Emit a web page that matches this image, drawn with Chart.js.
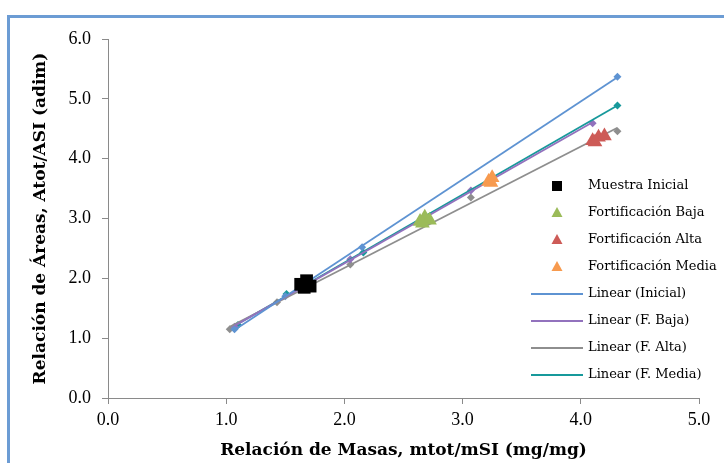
<!DOCTYPE html>
<html lang="es">
<head>
  <meta charset="UTF-8">
  <title>Relación de Áreas vs Relación de Masas</title>
  <script src="https://cdn.jsdelivr.net/npm/chart.js"></script>
  <style>
    body { margin: 0; background: #fff; overflow: hidden; }
    .lienzo { position: absolute; left: 0; top: 0; width: 724px; height: 463px; overflow: hidden; }
    .marco {
      position: absolute; left: 7px; top: 15px; width: 800px; height: 520px;
      border-left: 3px solid #6c9cd4; border-top: 3px solid #6c9cd4;
    }
    .grafico { position: absolute; left: 0; top: 0; width: 724px; height: 463px; }
  </style>
</head>
<body>
  <div class="lienzo">
    <div class="marco"></div>
    <div class="grafico"><canvas id="curvaCalibracion" width="724" height="463"></canvas></div>
  </div>

  <script>
    // Patrones (rombos) de cada curva
    const xInicial = [1.07, 1.50, 2.15, 4.31];
    const yInicial = [1.15, 1.70, 2.52, 5.37];
    const xBaja = [1.07, 2.05, 3.07, 4.10];
    const yBaja = [1.19, 2.32, 3.47, 4.59];
    const xAlta = [1.03, 1.43, 2.05, 3.07, 4.31];
    const yAlta = [1.15, 1.60, 2.23, 3.35, 4.46];
    const xMedia = [1.10, 1.51, 2.16, 4.31];
    const yMedia = [1.22, 1.74, 2.43, 4.89];

    // Muestras
    const xMuestra = [1.63, 1.68, 1.71, 1.66];
    const yMuestra = [1.90, 1.96, 1.87, 1.85];
    const xFBaja = [2.64, 2.68, 2.72, 2.66];
    const yFBaja = [2.95, 3.02, 2.97, 2.92];
    const xFAlta = [4.10, 4.15, 4.20, 4.12];
    const yFAlta = [4.30, 4.36, 4.38, 4.28];
    const xFMedia = [3.22, 3.25, 3.24];
    const yFMedia = [3.62, 3.68, 3.60];

    const azul = '#5e93d2', morado = '#9272bd', gris = '#8e8e8e', verdeAzul = '#17999b';
    const verde = '#9bbb59', rojo = '#cd5b57', naranja = '#f79a4e';

    const puntos = (xs, ys) => xs.map((x, i) => ({ x: x, y: ys[i] }));

    // Recta de mínimos cuadrados (línea de tendencia)
    function recta(xs, ys) {
      const n = xs.length;
      const mx = xs.reduce((a, b) => a + b, 0) / n;
      const my = ys.reduce((a, b) => a + b, 0) / n;
      let sxy = 0, sxx = 0;
      for (let i = 0; i < n; i++) {
        sxy += (xs[i] - mx) * (ys[i] - my);
        sxx += (xs[i] - mx) * (xs[i] - mx);
      }
      const m = sxy / sxx, b = my - m * mx;
      const x0 = Math.min(...xs), x1 = Math.max(...xs);
      return [{ x: x0, y: m * x0 + b }, { x: x1, y: m * x1 + b }];
    }

    const rombos = (datos, color) => ({
      label: '', data: datos, pointStyle: 'rectRot', pointRadius: 4,
      backgroundColor: color, borderColor: color, borderWidth: 0, showLine: false, order: 3
    });
    const linea = (label, datos, color) => ({
      label: label, data: datos, showLine: true, pointRadius: 0,
      borderColor: color, backgroundColor: color, borderWidth: 1.8, order: 2
    });
    const muestra = (label, datos, color, estilo, radio) => ({
      label: label, data: datos, pointStyle: estilo, pointRadius: radio,
      backgroundColor: color, borderColor: color, borderWidth: 0, showLine: false, order: 1
    });

    // Leyenda dentro del área del gráfico
    const leyenda = {
      id: 'leyenda',
      afterDraw(chart) {
        const ctx = chart.ctx;
        const filas = [
          ['Muestra Inicial', '#000', 'square'],
          ['Fortificación Baja', verde, 'triangle'],
          ['Fortificación Alta', rojo, 'triangle'],
          ['Fortificación Media', naranja, 'triangle'],
          ['Linear (Inicial)', azul, 'line'],
          ['Linear (F. Baja)', morado, 'line'],
          ['Linear (F. Alta)', gris, 'line'],
          ['Linear (F. Media)', verdeAzul, 'line']
        ];
        ctx.save();
        ctx.font = '13px "DejaVu Serif"';
        ctx.textBaseline = 'middle';
        filas.forEach((f, i) => {
          const y = 186 + i * 27;
          ctx.fillStyle = f[1];
          ctx.strokeStyle = f[1];
          if (f[2] === 'square') {
            ctx.fillRect(552, y - 5, 10, 10);
          } else if (f[2] === 'triangle') {
            ctx.beginPath();
            ctx.moveTo(557, y - 6);
            ctx.lineTo(562.5, y + 4);
            ctx.lineTo(551.5, y + 4);
            ctx.closePath();
            ctx.fill();
          } else {
            ctx.lineWidth = 1.8;
            ctx.beginPath();
            ctx.moveTo(531, y);
            ctx.lineTo(583, y);
            ctx.stroke();
          }
          ctx.fillStyle = '#000';
          ctx.fillText(f[0], 588, y);
        });
        ctx.restore();
      }
    };

    const ctx = document.getElementById('curvaCalibracion').getContext('2d');
    const grafico = new Chart(ctx, {
      type: 'scatter',
      data: {
        datasets: [
          rombos(puntos(xInicial, yInicial), azul),
          rombos(puntos(xBaja, yBaja), morado),
          rombos(puntos(xAlta, yAlta), gris),
          rombos(puntos(xMedia, yMedia), verdeAzul),
          linea('Linear (Inicial)', recta(xInicial, yInicial), azul),
          linea('Linear (F. Baja)', recta(xBaja, yBaja), morado),
          linea('Linear (F. Alta)', recta(xAlta, yAlta), gris),
          linea('Linear (F. Media)', recta(xMedia, yMedia), verdeAzul),
          muestra('Muestra Inicial', puntos(xMuestra, yMuestra), '#000', 'rect', 9),
          muestra('Fortificación Baja', puntos(xFBaja, yFBaja), verde, 'triangle', 8.5),
          muestra('Fortificación Alta', puntos(xFAlta, yFAlta), rojo, 'triangle', 8.5),
          muestra('Fortificación Media', puntos(xFMedia, yFMedia), naranja, 'triangle', 8.5)
        ]
      },
      options: {
        responsive: false,
        animation: false,
        layout: { padding: { left: 28, right: 25, top: 39, bottom: 0 } },
        plugins: {
          legend: { display: false },
          tooltip: { enabled: false }
        },
        scales: {
          x: {
            type: 'linear', min: 0, max: 5,
            afterFit: (s) => { s.height = 65; },
            border: { color: '#8a8a8a', width: 1 },
            grid: { drawOnChartArea: false, tickLength: 6, color: '#8a8a8a' },
            ticks: {
              stepSize: 1, padding: 5, color: '#000',
              font: { family: '"Liberation Serif"', size: 18 },
              callback: (v) => v.toFixed(1)
            },
            title: {
              display: true, text: 'Relación de Masas, mtot/mSI (mg/mg)', color: '#000',
              font: { family: '"DejaVu Serif"', size: 17, weight: 'bold' },
              padding: { top: 0, bottom: 2 }
            }
          },
          y: {
            type: 'linear', min: 0, max: 6,
            afterFit: (s) => { s.width = 80; },
            border: { color: '#8a8a8a', width: 1 },
            grid: { drawOnChartArea: false, tickLength: 6, color: '#8a8a8a' },
            ticks: {
              stepSize: 1, padding: 11, color: '#000',
              font: { family: '"Liberation Serif"', size: 18 },
              callback: (v) => v.toFixed(1)
            },
            title: {
              display: true, text: 'Relación de Áreas, Atot/ASI (adim)', color: '#000',
              font: { family: '"DejaVu Serif"', size: 17, weight: 'bold' },
              padding: { top: 2, bottom: 0 }
            }
          }
        }
      },
      plugins: [leyenda]
    });
  </script>
</body>
</html>
